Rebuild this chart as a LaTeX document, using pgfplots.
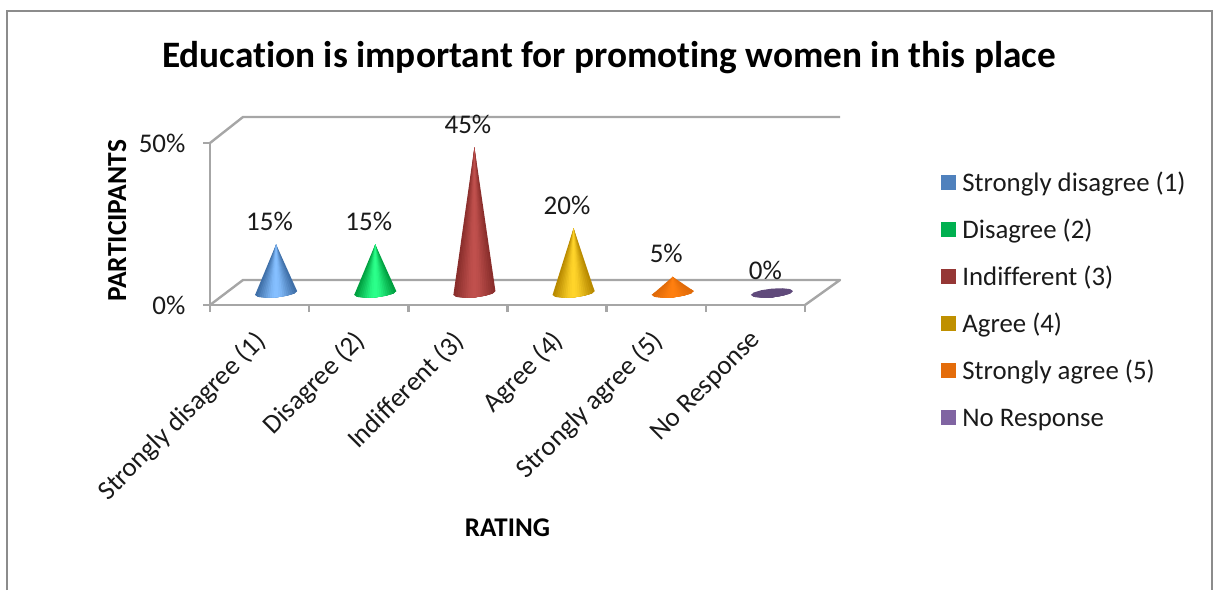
\documentclass[border=0pt]{standalone}
\usepackage{pgfplots}
\pgfplotsset{compat=1.18}
\usepackage{fontspec}
\setmainfont[Ligatures=NoCommon]{Carlito}
\definecolor{wall}{HTML}{A6A6A6}
\definecolor{frameline}{HTML}{8C8C8C}
\definecolor{inktext}{HTML}{1A1A1A}
% cone shading: edge and centre of each category
\definecolor{blueE}{HTML}{3F6FA8}\definecolor{blueC}{HTML}{85BFFF}
\definecolor{greenE}{HTML}{00A040}\definecolor{greenC}{HTML}{2BFF8A}
\definecolor{redE}{HTML}{8A2E2C}\definecolor{redC}{HTML}{C0504D}
\definecolor{yellowE}{HTML}{B88A00}\definecolor{yellowC}{HTML}{FFD42A}
\definecolor{orangeE}{HTML}{E06A08}\definecolor{orangeC}{HTML}{FF7F0F}
\definecolor{purpleE}{HTML}{604A7B}
% legend swatches
\definecolor{lgBlue}{HTML}{4F81BD}
\definecolor{lgGreen}{HTML}{00B050}
\definecolor{lgRed}{HTML}{953735}
\definecolor{lgYellow}{HTML}{BF9000}
\definecolor{lgOrange}{HTML}{E46C0A}
\definecolor{lgPurple}{HTML}{8064A2}

% One narrower cone laid over the previous: position, value, edge, centre,
% half width, tilt of the base, drop of the base, percentage of centre colour.
\newcommand{\coneslice}[8]{%
  \addplot[forget plot,draw=none,fill=#4!#8!#3,xshift=16.5pt,yshift=12pt] coordinates {
    ({#1-#5},{-#6-#7}) (#1,#2) ({#1+#5},{#6-#7}) (#1,-1.35)} --cycle;
}
% One cone: category position, value, edge colour, centre colour.
% The base is a slightly tilted ellipse laid on the floor of the chart;
% the round look comes from nesting ever narrower, lighter cones.
\newcommand{\cone}[4]{%
  \addplot[forget plot,draw=none,fill=#3,xshift=16.5pt,yshift=12pt] coordinates {
    ({#1+.212},.6) ({#1+.184},-.155) ({#1+.106},-.869) (#1,-1.35)
    ({#1-.106},-1.469) ({#1-.184},-1.195) ({#1-.212},-.6)
    ({#1-.184},.155) ({#1-.106},.869) (#1,1.35)
    ({#1+.106},1.469) ({#1+.184},1.195)} --cycle;
  \addplot[forget plot,draw=none,fill=#3,xshift=16.5pt,yshift=12pt] coordinates {
    ({#1-.212},-.6) (#1,#2) ({#1+.212},.6) ({#1+.184},-.155) ({#1+.106},-.869)} --cycle;
  \coneslice{#1}{#2}{#3}{#4}{.191}{.54}{.588}{12}
  \coneslice{#1}{#2}{#3}{#4}{.170}{.48}{.81}{25}
  \coneslice{#1}{#2}{#3}{#4}{.148}{.42}{.964}{37}
  \coneslice{#1}{#2}{#3}{#4}{.127}{.36}{1.08}{50}
  \coneslice{#1}{#2}{#3}{#4}{.106}{.30}{1.169}{62}
  \coneslice{#1}{#2}{#3}{#4}{.085}{.24}{1.237}{75}
  \coneslice{#1}{#2}{#3}{#4}{.064}{.18}{1.288}{87}
  \coneslice{#1}{#2}{#3}{#4}{.042}{.12}{1.323}{95}
  \coneslice{#1}{#2}{#3}{#4}{.021}{.06}{1.343}{100}
}
\pgfplotsset{
  swatch/.style={legend image code/.code={
    \fill[#1] (0pt,-7pt) rectangle (14pt,7pt);}},
}

\begin{document}
\begin{tikzpicture}[x=1pt,y=1pt]
  \useasboundingbox (0,0) rectangle (1213,590);
  % chart frame, open at the lower edge
  \draw[frameline,line width=2pt] (7,0) -- (7,579) -- (1212,579) -- (1212,0);
  % back walls and floor of the 3-D box
  \draw[wall,line width=2.4pt,line join=round]
    (210,447) -- (243,473) -- (840,473);
  \draw[wall,line width=2.4pt,line join=round]
    (805,285) -- (840,310) -- (243,310) -- (210,285);

  \node[font=\fontsize{37.3}{40}\selectfont\bfseries] at (609,532)
    {Education is important for promoting women in this place};

  \begin{axis}[
    at={(210pt,285pt)},anchor=south west,
    scale only axis,width=595pt,height=162pt,
    clip=false,
    xmin=0,xmax=6,ymin=0,ymax=50,
    axis x line=bottom,axis y line=left,
    axis line style={wall,line width=2.4pt,-},
    tick align=outside,
    xtick={0.5,1.5,2.5,3.5,4.5,5.5},
    xticklabels={Strongly disagree (1),Disagree (2),Indifferent (3),Agree (4),Strongly agree (5),No Response},
    minor xtick={0,1,2,3,4,5,6},
    ytick={0,50},
    yticklabels={0\%,50\%},
    major tick length=7pt,minor tick length=7pt,
    major x tick style={draw=none},
    minor x tick style={wall,line width=2.4pt},
    major y tick style={wall,line width=2.4pt},
    x tick label style={rotate=45,anchor=north east,font=\fontsize{27}{29}\selectfont,text=inktext,inner sep=2pt,xshift=-14pt,yshift=-5pt},
    y tick label style={font=\fontsize{27}{29}\selectfont,text=inktext,xshift=-14pt},
    xlabel={RATING},ylabel={PARTICIPANTS},
    every axis x label/.style={at={(axis cs:3,0)},anchor=center,yshift=-223pt,font=\fontsize{27}{29}\selectfont\bfseries},
    every axis y label/.style={at={(axis description cs:-0.156,0.52)},rotate=90,anchor=center,font=\fontsize{27.5}{29}\selectfont\bfseries},
    legend style={draw=none,fill=none,at={(axis description cs:1.2286,0.83)},anchor=north west,
      inner sep=0pt,outer sep=0pt,
      font=\fontsize{26.8}{29}\selectfont,text=inktext,
      nodes={text height=21pt,text depth=3pt,inner sep=0pt},
      /tikz/row sep=23pt,/tikz/column sep=7pt},
    legend cell align=left,
    every node near coord/.style={anchor=center,xshift=10pt,yshift=35pt,
      font=\fontsize{27}{29}\selectfont,text=inktext,
      /pgf/number format/assume math mode=true},
  ]
  \cone{0.5}{15}{blueE}{blueC}
  \cone{1.5}{15}{greenE}{greenC}
  \cone{2.5}{45}{redE}{redC}
  \cone{3.5}{20}{yellowE}{yellowC}
  \cone{4.5}{5}{orangeE}{orangeC}
  \cone{5.5}{0}{purpleE}{purpleE}

  % value labels above each cone
  \addplot[forget plot,draw=none,mark=none,
    nodes near coords={\pgfmathprintnumber[assume math mode=true]{\pgfplotspointmeta}\%},
    point meta=explicit]
    coordinates {(0.5,15)[15] (1.5,15)[15] (2.5,45)[45] (3.5,20)[20] (4.5,5)[5] (5.5,0)[0]};

  \addlegendimage{swatch=lgBlue}\addlegendentry{Strongly disagree (1)}
  \addlegendimage{swatch=lgGreen}\addlegendentry{Disagree (2)}
  \addlegendimage{swatch=lgRed}\addlegendentry{Indifferent (3)}
  \addlegendimage{swatch=lgYellow}\addlegendentry{Agree (4)}
  \addlegendimage{swatch=lgOrange}\addlegendentry{Strongly agree (5)}
  \addlegendimage{swatch=lgPurple}\addlegendentry{No Response}
  \end{axis}
\end{tikzpicture}
\end{document}
